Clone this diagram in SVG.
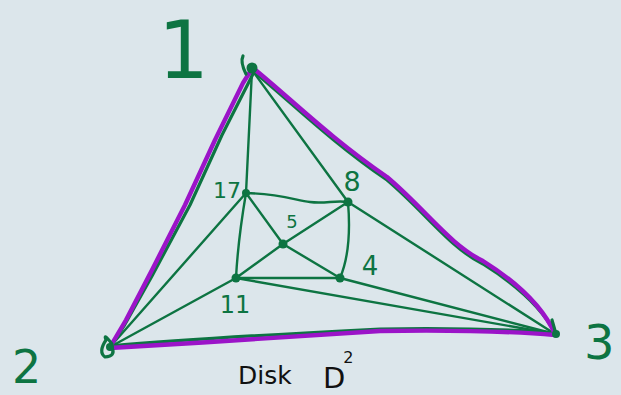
<svg xmlns="http://www.w3.org/2000/svg" width="621" height="395" viewBox="0 0 621 395">
<style>
.e{fill:none;stroke:#0d7442;stroke-width:2.4;stroke-linecap:round;stroke-linejoin:round}
.o{fill:none;stroke:#0d7442;stroke-width:3.2;stroke-linecap:round;stroke-linejoin:round}
.p{fill:none;stroke:#9b14c8;stroke-width:4.4;stroke-linecap:round;stroke-linejoin:round}
.n{fill:#0d7442}
.t{fill:#0d7442;font-family:"DejaVu Sans",sans-serif}
.k{fill:#111;font-family:"DejaVu Sans",sans-serif}
</style>
<rect width="621" height="395" fill="#dce6eb"/>
<g id="connectors">
<path class="e" d="M252,70 L246,193"/>
<path class="e" d="M252,70 L348,202"/>
<path class="e" d="M246,193 C280,194 295,200 310,202 S335,200 348,202"/>
<path class="e" d="M246,193 L283,244"/>
<path class="e" d="M246,193 Q238,240 236,278"/>
<path class="e" d="M246,193 L110,347"/>
<path class="e" d="M348,202 L283,244"/>
<path class="e" d="M348,202 Q352,250 340,278"/>
<path class="e" d="M348,202 L555,334"/>
<path class="e" d="M283,244 L236,278"/>
<path class="e" d="M283,244 L340,278"/>
<path class="e" d="M236,278 L340,278"/>
<path class="e" d="M236,278 L110,347"/>
<path class="e" d="M236,278 L555,334"/>
<path class="e" d="M340,278 L555,334"/>
<path class="o" d="M254,72 L222,135 L190,205 L152,276 L124,326 L111,346"/>
<path class="o" d="M253,71 C290,101 330,141 387,180 C425,212 450,248 483,264 C515,284 542,308 555,333"/>
<path class="o" d="M110,346 C200,338 300,333 380,329 C450,328 520,330 555,333"/>
<path class="p" d="M250,72 L243,83 L215,140 L185,205 L152,270 L126,320 L110,347"/>
<path class="p" d="M253,68 C290,98 330,138 387,177 C425,209 450,245 483,261 C515,281 542,305 555,334"/>
<path class="p" d="M110,348 C200,343 300,336 380,331 C450,330 520,332 555,335"/>
</g>
<g id="n1"><path class="o" d="M246,74 Q240,62 243,56"/><circle class="n" cx="252" cy="68" r="5.5"/><text class="t" x="158" y="78" font-size="80">1</text></g>
<g id="n2"><path class="o" d="M112,344 Q103,332 106,340 Q98,352 105,357 Q116,356 112,348"/><circle class="n" cx="110" cy="347" r="4"/><text class="t" x="12" y="383" font-size="46">2</text></g>
<g id="n3"><path class="o" d="M552,320 L556,334"/><circle class="n" cx="556" cy="334" r="4"/><text class="t" x="584" y="359" font-size="48">3</text></g>
<g id="n17"><circle class="n" cx="246" cy="193" r="4"/><text class="t" x="227" y="198" font-size="22" text-anchor="middle">17</text></g>
<g id="n8"><circle class="n" cx="348" cy="202" r="4.5"/><text class="t" x="352" y="191" font-size="27" text-anchor="middle">8</text></g>
<g id="n5"><circle class="n" cx="283" cy="244" r="4.5"/><text class="t" x="292" y="228" font-size="18" text-anchor="middle">5</text></g>
<g id="n11"><circle class="n" cx="236" cy="278" r="4.5"/><text class="t" x="235" y="313" font-size="24" text-anchor="middle">11</text></g>
<g id="n4"><circle class="n" cx="340" cy="278" r="4.5"/><text class="t" x="370" y="275" font-size="26" text-anchor="middle">4</text></g>
<text class="k" x="238" y="384" font-size="25">Disk<tspan x="323" y="388" font-size="29">D</tspan><tspan dx="-2" y="363" font-size="16">2</tspan></text>
</svg>
